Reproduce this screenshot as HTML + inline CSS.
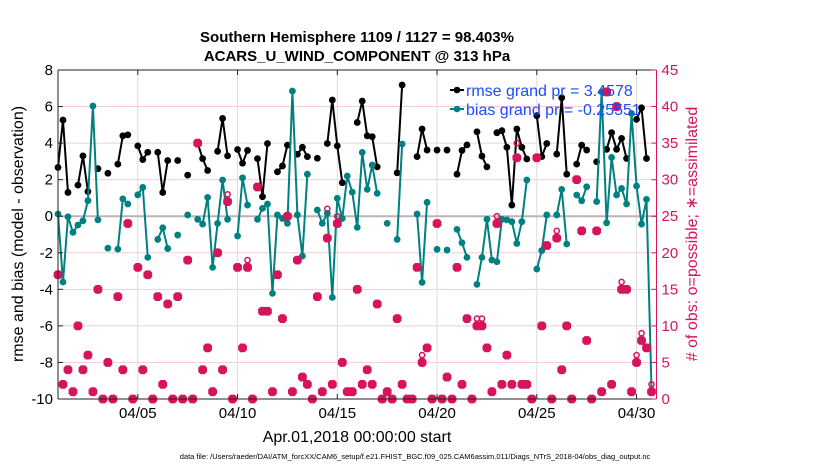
<!DOCTYPE html>
<html><head><meta charset="utf-8"><style>
html,body{margin:0;padding:0;background:#fff;width:830px;height:470px;overflow:hidden}
svg{display:block;font-family:"Liberation Sans",Arial,sans-serif}
</style></head><body>
<svg id="chart" width="830" height="470" viewBox="0 0 830 470" xmlns="http://www.w3.org/2000/svg">
<text x="357" y="42" text-anchor="middle" font-size="15" font-weight="bold">Southern Hemisphere 1109 / 1127 = 98.403%</text>
<text x="357" y="61" text-anchor="middle" font-size="15" font-weight="bold">ACARS_U_WIND_COMPONENT @ 313 hPa</text>
<g id="grid"></g>
<g id="marks"></g>
<g id="axes"></g>
<text transform="translate(23,234) rotate(-90)" text-anchor="middle" font-size="16">rmse and bias (model - observation)</text>
<text transform="translate(697,234) rotate(-90)" text-anchor="middle" font-size="16" fill="#d6145c"># of obs: o=possible; ∗=assimilated</text>
<text x="357" y="442" text-anchor="middle" font-size="16">Apr.01,2018 00:00:00 start</text>
<text x="415" y="459" text-anchor="middle" font-size="7.5">data file: /Users/raeder/DAI/ATM_forcXX/CAM6_setup/f.e21.FHIST_BGC.f09_025.CAM6assim.011/Diags_NTrS_2018-04/obs_diag_output.nc</text>
<g>
<line x1="450" y1="90" x2="464" y2="90" stroke="#000" stroke-width="2"/>
<circle cx="457" cy="90" r="3.3" fill="#000"/>
<text x="466" y="96" font-size="16" fill="#1a4cff">rmse grand pr = 3.4578</text>
<line x1="450" y1="109" x2="464" y2="109" stroke="#008080" stroke-width="2"/>
<circle cx="457" cy="109" r="3.3" fill="#008080"/>
<text x="466" y="115" font-size="16" fill="#1a4cff">bias grand pr = -0.25551</text>
</g>
</svg>
<script>
const rmse=[2.67,5.26,1.3,null,1.7,3.3,1.35,null,2.6,null,
2.35,null,2.85,4.4,4.45,null,3.85,3.1,3.5,null,
3.5,1.3,3.05,null,3.05,null,2.25,null,4.0,3.15,
2.5,null,3.55,5.35,3.3,null,3.65,2.9,3.6,null,
3.15,1.07,3.98,null,2.43,2.75,3.89,null,3.39,3.77,
3.26,null,3.17,null,3.98,6.36,3.85,1.83,null,null,
5.13,6.3,4.4,4.35,2.7,null,null,null,2.37,7.18,
null,null,3.26,4.77,3.62,null,3.62,null,3.62,null,
2.3,3.6,3.9,null,4.62,3.29,2.7,null,4.57,4.68,
3.77,0.61,4.77,3.77,3.13,null,5.5,3.26,3.98,null,
3.4,6.48,2.3,null,2.85,3.89,3.62,null,2.98,null,
3.66,4.57,3.66,4.26,3.16,null,5.3,5.93,3.16,null];
const bias=[0.12,-3.6,-0.03,-0.88,-0.48,-0.25,0.85,6.03,-0.2,null,
-1.75,null,-1.8,0.95,0.67,null,1.17,1.58,-2.25,null,
-1.27,-0.63,-1.77,null,-1.03,null,0.07,null,-0.17,-0.43,
1.03,-2.8,-0.39,1.98,-0.17,null,-1.08,2.1,0.61,null,
-0.17,0.43,0.67,-4.22,0.07,-0.12,-0.39,6.85,0.07,-2.18,
2.3,null,0.34,-0.39,0.16,-4.44,0.98,-0.12,2.2,1.32,
-0.61,3.49,1.47,2.8,1.25,null,-0.39,null,-1.27,3.95,
null,null,0.12,-3.62,0.76,null,-1.81,null,-1.85,null,
-0.72,-1.45,-2.25,null,-3.73,-2.25,-0.17,-2.4,-2.49,-0.17,
-0.2,-0.3,-1.49,-0.3,1.98,null,-2.89,-1.88,0.07,null,
0.07,1.47,-1.52,null,1.16,0.85,1.61,null,0.8,6.81,
-0.36,3.22,1.16,1.52,0.67,5.62,1.65,-0.43,0.92,-9.51];
const nAssim=[17,2,4,1,10,4,6,1,15,0,
5,0,14,4,24,0,18,4,17,0,
14,2,13,0,14,0,19,0,35,4,
7,1,20,4,27,0,18,7,18,0,
29,12,12,1,17,11,25,1,19,3,
2,0,14,1,22,2,24,5,1,1,
15,2,4,2,13,0,1,0,11,2,
0,0,18,5,7,0,24,0,3,0,
18,2,11,0,10,10,7,1,24,2,
6,2,33,2,2,0,33,10,21,0,
22,4,10,0,30,23,8,0,23,1,
42,2,40,15,15,1,5,8,7,1];
const nPoss=[17,2,4,1,10,4,6,1,15,0,
5,0,14,4,24,0,18,4,17,0,
14,2,13,0,14,0,19,0,35,4,
7,1,20,4,28,0,18,7,19,0,
29,12,12,1,17,11,25,1,19,3,
2,0,14,1,26,2,25,5,1,1,
15,2,4,2,13,0,1,0,11,2,
0,0,18,6,7,0,24,0,3,0,
18,2,11,0,11,11,7,1,25,2,
6,2,35,2,2,0,33,10,21,0,
23,4,10,0,30,23,8,0,23,1,
42,2,40,16,15,1,6,9,7,2];
const xTickDays=[4,9,14,19,24,29];
const xTickLabels=["04/05","04/10","04/15","04/20","04/25","04/30"];
const yLeftTicks=[-10,-8,-6,-4,-2,0,2,4,6,8];
const yRightTicks=[0,5,10,15,20,25,30,35,40,45];

const NS="http://www.w3.org/2000/svg";
const L=58,R=656.5,T=70,B=399;
const dayX=d=>L+(R-L)*d/30;
const slotX=i=>dayX(i*0.25);
const yL=v=>B-(v+10)/18*(B-T);
const yR=c=>B-c/45*(B-T);
const PINK="#d6145c",TEAL="#008080";
function mk(tag,attrs,parent){const e=document.createElementNS(NS,tag);for(const k in attrs)e.setAttribute(k,attrs[k]);parent.appendChild(e);return e;}
const grid=document.getElementById('grid'),marks=document.getElementById('marks'),axes=document.getElementById('axes');

yRightTicks.forEach(c=>{const l=mk('line',{x1:L,x2:R,y1:yR(c),y2:yR(c),stroke:'#f4cdd9','stroke-width':1},grid);

});
xTickDays.forEach(d=>{const l=mk('line',{x1:dayX(d),x2:dayX(d),y1:T,y2:B,stroke:'#dcdcdc','stroke-width':1},grid);

});
const z=mk('line',{x1:L,x2:R,y1:yL(0),y2:yL(0),stroke:'#bdb3b6','stroke-width':2},grid);



function series(vals,color,name,sy){
  let seg=[];const segs=[];
  vals.forEach((v,i)=>{if(v===null){if(seg.length)segs.push(seg);seg=[];}else seg.push([slotX(i),sy(v)]);});
  if(seg.length)segs.push(seg);
  segs.forEach(s=>{if(s.length>1){const p=mk('polyline',{points:s.map(q=>q.join(',')).join(' '),fill:'none',stroke:color,'stroke-width':2,'stroke-linejoin':'round'},marks);
  
  }});
  vals.forEach((v,i)=>{if(v===null)return;const c=mk('circle',{cx:slotX(i),cy:sy(v),r:3.4,fill:color},marks);
  
  });
}
series(rmse,'#000','rmse',yL);
series(bias,TEAL,'bias',yL);

nPoss.forEach((c,i)=>{const o=mk('circle',{cx:slotX(i),cy:yR(c),r:2.6,fill:'none',stroke:PINK,'stroke-width':1.5},marks);

});
nAssim.forEach((c,i)=>{const x=slotX(i),y=yR(c),s=4.6,h=1.6;
const d=mk('path',{d:`M${x-h},${y-s} L${x+h},${y-s} L${x+s},${y-h} L${x+s},${y+h} L${x+h},${y+s} L${x-h},${y+s} L${x-s},${y+h} L${x-s},${y-h}Z`,fill:PINK,transform:`rotate(45 ${x} ${y})`},marks);

});

mk('line',{x1:L,x2:R,y1:T,y2:T,stroke:'#222','stroke-width':1},axes);
mk('line',{x1:L,x2:R,y1:B,y2:B,stroke:'#222','stroke-width':1},axes);
mk('line',{x1:L,x2:L,y1:T,y2:B,stroke:'#222','stroke-width':1},axes);
mk('line',{x1:R,x2:R,y1:T,y2:B,stroke:PINK,'stroke-width':1},axes);
xTickDays.forEach((d,k)=>{mk('line',{x1:dayX(d),x2:dayX(d),y1:B,y2:B-5,stroke:'#222'},axes);mk('line',{x1:dayX(d),x2:dayX(d),y1:T,y2:T+5,stroke:'#222'},axes);
const t=mk('text',{x:dayX(d),y:B+19,'text-anchor':'middle','font-size':15},axes);t.textContent=xTickLabels[k];

});
yLeftTicks.forEach(v=>{mk('line',{x1:L,x2:L+5,y1:yL(v),y2:yL(v),stroke:'#222'},axes);
const t=mk('text',{x:L-5,y:yL(v)+5,'text-anchor':'end','font-size':15},axes);t.textContent=v;

});
yRightTicks.forEach(c=>{mk('line',{x1:R-5,x2:R,y1:yR(c),y2:yR(c),stroke:PINK},axes);
const t=mk('text',{x:R+5,y:yR(c)+5,'font-size':15,fill:PINK},axes);t.textContent=c;

});
</script>
</body></html>
